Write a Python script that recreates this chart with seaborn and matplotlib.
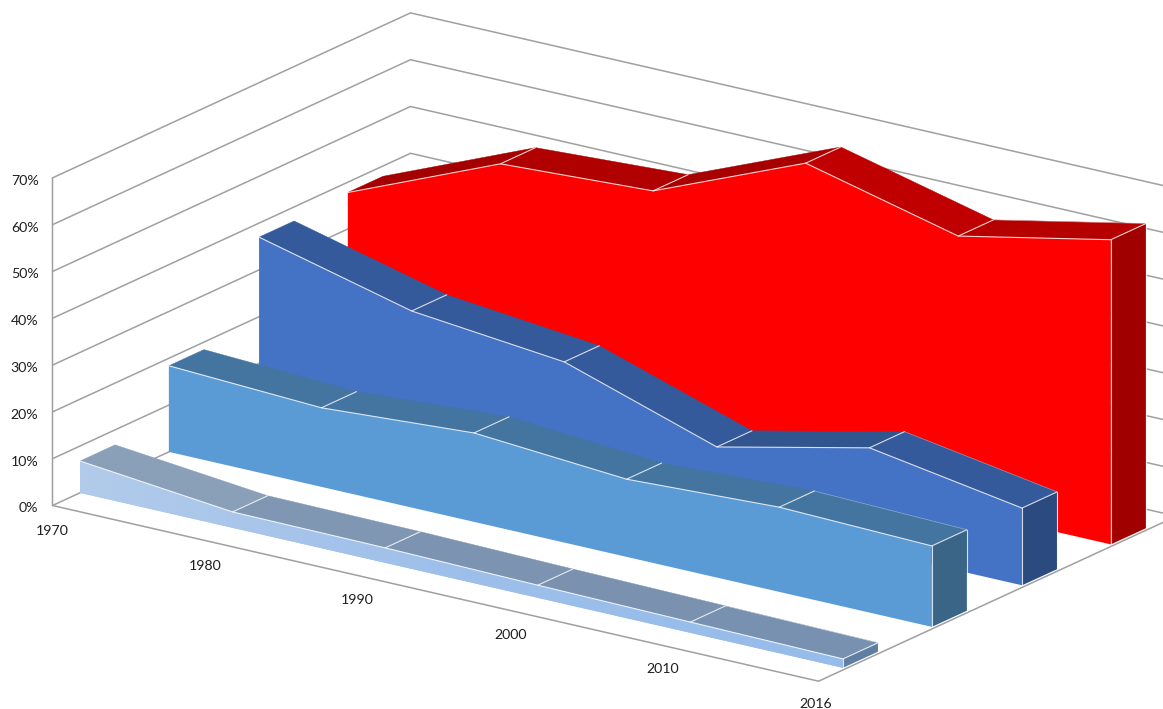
import numpy as np
import pandas as pd
import matplotlib
matplotlib.use("Agg")
import matplotlib.pyplot as plt
from matplotlib.colors import LinearSegmentedColormap
from matplotlib.patches import Polygon
import seaborn as sns

years = ["1970", "1980", "1990", "2000", "2010", "2016"]
pct_ticks = [0, 10, 20, 30, 40, 50, 60, 70]

# values, back row first
red_values = [37.8, 51.4, 53.1, 66.5, 58.4, 65.1]
blue_values = [37.0, 28.7, 25.3, 14.6, 21.9, 16.5]
light_values = [18.4, 16.9, 19.0, 16.6, 18.1, 17.3]
pale_values = [6.8, 3.4, 3.2, 2.7, 2.3, 1.9]

# oblique projection of the chart box, in image pixels
ORIGIN = np.array([52.5, 505.5])
CAT_STEP = np.array([152.6, 35.0])
DEPTH = np.array([358.0, -165.0])
PCT_STEP = np.array([0.0, -4.68])
ROW_WIDTH = 0.098
N_STEPS = len(years) - 1


def project(cat, depth, pct):
    p = ORIGIN + cat * CAT_STEP + depth * DEPTH + pct * PCT_STEP
    return p[0], p[1]


sns.set_theme(style="white")
plt.rcParams["font.family"] = ["Lato", "DejaVu Sans"]

fig = plt.figure(figsize=(11.63, 7.09), dpi=100)
ax = fig.add_axes([0, 0, 1, 1])

# walls and floor grid
rows = []
for pct in pct_ticks:
    for order, (c, d) in enumerate([(0, 0), (0, 1), (N_STEPS + 0.02, 1)]):
        sx, sy = project(c, d, pct)
        rows.append({"level": pct, "order": order, "sx": sx, "sy": sy})
grid_df = pd.DataFrame(rows)
sns.lineplot(data=grid_df, x="sx", y="sy", units="level", estimator=None, sort=False,
             color="#a0a0a0", linewidth=1.1, ax=ax, legend=False, zorder=1)

frame_df = pd.DataFrame(
    [project(0, 0, 70), project(0, 0, 0), project(N_STEPS + 0.02, 0, 0), project(N_STEPS + 0.02, 1, 0)],
    columns=["sx", "sy"],
)
sns.lineplot(data=frame_df, x="sx", y="sy", estimator=None, sort=False,
             color="#a0a0a0", linewidth=1.1, ax=ax, legend=False, zorder=1)

edge = dict(color="white", linewidth=0.8, alpha=0.8, solid_capstyle="round")


def draw_row(values, depth, front, tops, side, z, gradient=None):
    back = depth + ROW_WIDTH
    # top strip, one shade per segment
    for i in range(N_STEPS):
        quad = [project(i, depth, values[i]), project(i + 1, depth, values[i + 1]),
                project(i + 1, back, values[i + 1]), project(i, back, values[i])]
        ax.add_patch(Polygon(quad, closed=True, facecolor=tops[i], edgecolor=tops[i],
                             linewidth=0.3, zorder=z))
    # front face
    outline = [project(i, depth, v) for i, v in enumerate(values)]
    outline += [project(N_STEPS, depth, 0), project(0, depth, 0)]
    face = Polygon(outline, closed=True, facecolor=front, edgecolor="none", zorder=z + 1)
    ax.add_patch(face)
    if gradient is not None:
        xs, ys = zip(*outline)
        ramp = np.linspace(0, 1, 256).reshape(1, -1)
        cmap = LinearSegmentedColormap.from_list("pale", gradient)
        im = ax.imshow(ramp, extent=(min(xs), max(xs), max(ys), min(ys)), cmap=cmap,
                       aspect="auto", zorder=z + 1.5)
        im.set_clip_path(face)
    # right side
    last = values[-1]
    quad = [project(N_STEPS, depth, last), project(N_STEPS, back, last),
            project(N_STEPS, back, 0), project(N_STEPS, depth, 0)]
    ax.add_patch(Polygon(quad, closed=True, facecolor=side, edgecolor="none", zorder=z + 2))
    # light edges
    sx, sy = zip(*[project(i, depth, v) for i, v in enumerate(values)])
    ax.plot(sx, sy, zorder=z + 3, **edge)
    for i in range(1, N_STEPS + 1):
        a = project(i, depth, values[i])
        b = project(i, back, values[i])
        ax.plot([a[0], b[0]], [a[1], b[1]], zorder=z + 3, **edge)
    for a, b in [(quad[0], quad[3]), (quad[1], quad[2])]:
        ax.plot([a[0], b[0]], [a[1], b[1]], zorder=z + 3, **edge)
    a = project(N_STEPS - 1, back, values[-2])
    ax.plot([a[0], quad[1][0]], [a[1], quad[1][1]], zorder=z + 3, color="white",
            linewidth=0.5, alpha=0.4)


draw_row(red_values, 0.825, "#ff0000",
         ["#a50000", "#b00000", "#a80000", "#c00000", "#b60000"], "#a00000", 10)
draw_row(blue_values, 0.577, "#4472c4",
         ["#355a9b", "#355a9b", "#355a9b", "#31558f", "#355a9b"], "#2b4a80", 20)
draw_row(light_values, 0.325, "#5b9bd5",
         ["#4475a0", "#4475a0", "#4475a0", "#4475a0", "#4475a0"], "#3a6587", 30)
draw_row(pale_values, 0.0768, "#a0c0ea",
         ["#8a9fb8", "#8097b3", "#7c94b1", "#7a92b0", "#7891b0"], "#5f7ea2", 40,
         gradient=["#b2cbea", "#9dbfea", "#96bcea"])

# tick labels
for pct in pct_ticks:
    sx, sy = project(0, 0, pct)
    ax.text(sx - 14, sy + 3, f"{pct}%", ha="right", va="center", fontsize=10.2,
            color="#1f1f1f", zorder=60)
for i, year in enumerate(years):
    sx, sy = project(i, 0, 0)
    ax.text(sx, sy + 25.5 - 0.4 * i, year, ha="center", va="center", fontsize=10.2,
            color="#1f1f1f", zorder=60)

ax.set_xlim(0, 1163)
ax.set_ylim(709, 0)
ax.axis("off")

fig.savefig("out.png", dpi=100)
